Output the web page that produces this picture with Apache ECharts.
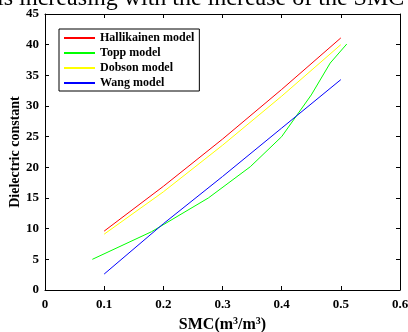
<!DOCTYPE html>
<html><head><meta charset="utf-8">
<script src="https://cdn.jsdelivr.net/npm/echarts@6/dist/echarts.min.js"></script>
<style>html,body{margin:0;padding:0;background:#fff}#c{width:408px;height:332px}</style>
</head><body><div id="c"></div>
<script>
var hallikainen = [[0.1, 9.6], [0.2, 16.9], [0.3, 24.6], [0.4, 32.7], [0.5, 41.1]];
var topp = [[0.08, 5.0], [0.18, 9.5], [0.276, 15.0], [0.347, 20.1], [0.40, 25.0], [0.45, 31.8], [0.482, 37.0], [0.51, 40.1]];
var dobson = [[0.1, 9.1], [0.2, 16.0], [0.3, 23.6], [0.4, 31.6], [0.5, 40.0]];
var wang = [[0.1, 2.6], [0.2, 10.8], [0.3, 18.5], [0.4, 26.4], [0.5, 34.3]];
var seriesNames = ['Hallikainen model', 'Topp model', 'Dobson model', 'Wang model'];
var colors = ['#ff0000', '#00ff00', '#ffff00', '#0000ff'];
var font = 'Liberation Serif';
var chart = echarts.init(document.getElementById('c'), null, {renderer: 'canvas'});
function ser(name, data, color) {
  return {name: name, type: 'line', data: data, symbol: 'none', lineStyle: {color: color, width: 1}, itemStyle: {color: color}, animation: false};
}
var axisCommon = {
  axisLine: {show: true, onZero: false, lineStyle: {color: '#000', width: 1}},
  axisTick: {show: true, inside: true, length: 4, lineStyle: {color: '#000'}},
  splitLine: {show: false}
};
chart.setOption({
  animation: false,
  graphic: [{type: 'text', x: -3, y: 11, style: {text: 'is increasing with the increase of the SMC', font: '24px "Liberation Serif"', fill: '#000', verticalAlign: 'bottom', align: 'left'}}],
  grid: {left: 45, right: 8, top: 14, bottom: 42, outerBoundsMode: 'none', containLabel: false},
  legend: {
    orient: 'vertical', left: 59, top: 29, data: seriesNames,
    itemWidth: 31, itemHeight: 2, itemGap: 3,
    borderColor: '#000', borderWidth: 1, padding: [3, 5, 2, 4],
    textStyle: {fontFamily: font, fontWeight: 'bold', fontSize: 12, color: '#000'}
  },
  xAxis: [Object.assign({type: 'value', min: 0, max: 0.6, interval: 0.1,
    name: '{a|SMC(m}{s|3}{a|/m}{s|3}{a|)}', nameLocation: 'middle', nameGap: 26, nameMoveOverlap: false,
    nameTextStyle: {rich: {a: {fontFamily: font, fontWeight: 'bold', fontSize: 16, color: '#000'}, s: {fontFamily: font, fontWeight: 'bold', fontSize: 10, color: '#000', verticalAlign: 'top', padding: [0,0,7,0]}}},
    axisLabel: {fontFamily: font, fontWeight: 'bold', fontSize: 13, color: '#000', margin: 8}
  }, axisCommon),
  Object.assign({type: 'value', position: 'top', min: 0, max: 0.6, interval: 0.1, axisLabel: {show: false}}, axisCommon)],
  yAxis: [Object.assign({type: 'value', min: 0, max: 45, interval: 5,
    name: 'Dielectric constant', nameLocation: 'middle', nameGap: 23, nameMoveOverlap: false,
    nameTextStyle: {fontFamily: font, fontWeight: 'bold', fontSize: 14, color: '#000'},
    axisLabel: {fontFamily: font, fontWeight: 'bold', fontSize: 13, color: '#000', margin: 6}
  }, axisCommon),
  Object.assign({type: 'value', position: 'right', min: 0, max: 45, interval: 5, axisLabel: {show: false}}, axisCommon)],
  series: [ser(seriesNames[0], hallikainen, colors[0]), ser(seriesNames[1], topp, colors[1]), ser(seriesNames[2], dobson, colors[2]), ser(seriesNames[3], wang, colors[3])]
});
</script></body></html>
